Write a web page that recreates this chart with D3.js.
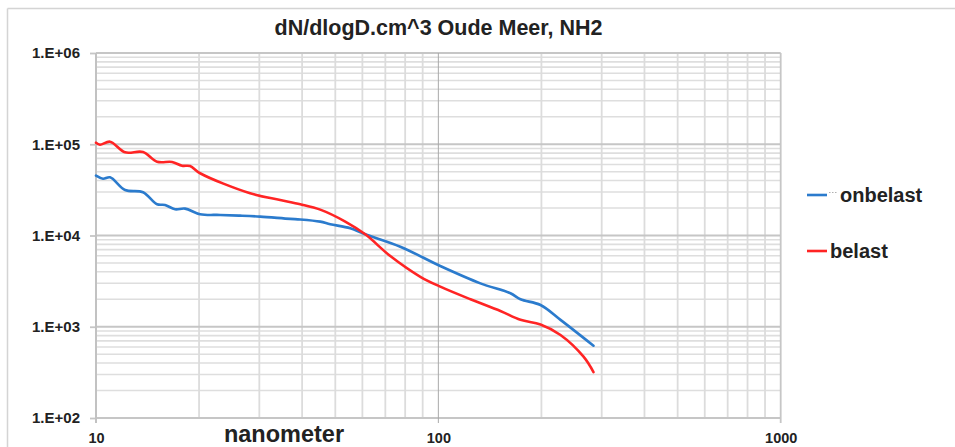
<!DOCTYPE html>
<html>
<head>
<meta charset="utf-8">
<script src="https://cdn.jsdelivr.net/npm/d3@7/dist/d3.min.js"></script>
<style>
  html, body { margin: 0; padding: 0; background: #ffffff; }
  svg { display: block; }
  text { font-family: "Liberation Sans", Arial, sans-serif; font-weight: bold; fill: #222; }
</style>
</head>
<body>
<svg id="chart" width="955" height="447"></svg>
<script>
// Particle size distribution, dN/dlogD per cm^3 against diameter in nm
const diamOnbelast = [10.0, 10.48, 10.99, 12.16, 13.72, 15.08, 15.91, 17.02, 18.2, 20.14, 23.05, 26.37, 30.16, 36.93, 39.5, 45.19, 48.33, 55.3, 61.16, 77.43, 101.3, 132.7, 162.4, 173.7, 198.8, 227.4, 283.9];
const valOnbelast  = [45200, 41900, 43400, 31500, 29800, 22000, 21600, 19400, 19700, 17100, 16800, 16500, 16100, 15200, 15000, 14200, 13300, 12000, 10300, 7540, 4630, 2990, 2330, 2000, 1730, 1190, 620];

const diamBelast = [10.0, 10.27, 10.99, 12.16, 13.72, 15.08, 16.68, 17.84, 18.83, 20.14, 28.2, 34.52, 39.5, 45.19, 53.47, 61.16, 72.38, 88.6, 101.3, 124.1, 151.8, 173.7, 198.8, 227.4, 265.5, 283.9];
const valBelast  = [104000, 98900, 106600, 81600, 82200, 64400, 63900, 58200, 57700, 48100, 29000, 24500, 22000, 19200, 14200, 10300, 5960, 3530, 2750, 2000, 1490, 1190, 1060, 813, 470, 319];

const seriesNames = ["onbelast", "belast"];
const seriesColors = ["#2b7bcd", "#ff2424"];

const xTickValues = [10, 100, 1000];
const xTickLabels = ["10", "100", "1000"];
const yTickValues = [1e2, 1e3, 1e4, 1e5, 1e6];
const yTickLabels = ["1.E+02", "1.E+03", "1.E+04", "1.E+05", "1.E+06"];

const titleText = "dN/dlogD.cm^3 Oude Meer, NH2";
const xTitleText = "nanometer";

const svg = d3.select("#chart");
const plot = { left: 96, right: 780.7, top: 53, bottom: 418 };

const x = d3.scaleLog().domain([10, 1000]).range([plot.left, plot.right]);
const y = d3.scaleLog().domain([1e2, 1e6]).range([plot.bottom, plot.top]);

// chart frame edges
svg.append("line").attr("x1", 7.5).attr("x2", 955).attr("y1", 8.5).attr("y2", 8.5)
  .attr("stroke", "#d4d4d4").attr("stroke-width", 1.5);
svg.append("line").attr("x1", 7.5).attr("x2", 7.5).attr("y1", 8.5).attr("y2", 447)
  .attr("stroke", "#d4d4d4").attr("stroke-width", 1.5);

// minor values per decade
const minorX = [];
for (const d of [10, 100]) for (let k = 2; k <= 9; k++) minorX.push(d * k);
const minorY = [];
for (const d of [1e2, 1e3, 1e4, 1e5]) for (let k = 2; k <= 9; k++) minorY.push(d * k);

const grid = svg.append("g");
grid.selectAll(".hminor").data(minorY).join("line")
  .attr("x1", plot.left).attr("x2", plot.right)
  .attr("y1", d => y(d)).attr("y2", d => y(d))
  .attr("stroke", "#dedede").attr("stroke-width", 1.6);
grid.selectAll(".vminor").data(minorX).join("line")
  .attr("x1", d => x(d)).attr("x2", d => x(d))
  .attr("y1", plot.top).attr("y2", plot.bottom)
  .attr("stroke", "#dcdcdc").attr("stroke-width", 1.8);
grid.selectAll(".hmajor").data(yTickValues).join("line")
  .attr("x1", plot.left).attr("x2", plot.right)
  .attr("y1", d => y(d)).attr("y2", d => y(d))
  .attr("stroke", "#c6c6c6").attr("stroke-width", 1.8);
grid.selectAll(".vmajor").data(xTickValues).join("line")
  .attr("x1", d => x(d)).attr("x2", d => x(d))
  .attr("y1", plot.top).attr("y2", plot.bottom + 5)
  .attr("stroke", d => d === 100 ? "#a9a9a9" : "#c6c6c6")
  .attr("stroke-width", d => d === 100 ? 1 : 1.8);

// y axis
const yAxis = d3.axisLeft(y).tickValues(yTickValues)
  .tickFormat((d, i) => yTickLabels[i]).tickSize(6).tickPadding(10);
const gy = svg.append("g").attr("transform", `translate(${plot.left},0)`).call(yAxis);
gy.select(".domain").remove();
gy.selectAll(".tick line").attr("stroke", "#c6c6c6").attr("stroke-width", 1.8);
gy.selectAll(".tick text").attr("font-size", 15).attr("font-weight", "bold")
  .attr("fill", "#2a2a2a").attr("font-family", "Liberation Sans, Arial, sans-serif");

// x axis labels
const xAxis = d3.axisBottom(x).tickValues(xTickValues)
  .tickFormat((d, i) => xTickLabels[i]).tickSize(0).tickPadding(0);
const gx = svg.append("g").attr("transform", `translate(0,${plot.bottom})`).call(xAxis);
gx.select(".domain").remove();
gx.selectAll(".tick line").remove();
gx.selectAll(".tick text").attr("font-size", 14.5).attr("font-weight", "bold")
  .attr("fill", "#2a2a2a").attr("font-family", "Liberation Sans, Arial, sans-serif")
  .attr("dy", null).attr("y", 25);

// left axis line
svg.append("line").attr("x1", plot.left).attr("x2", plot.left)
  .attr("y1", plot.top).attr("y2", plot.bottom + 5)
  .attr("stroke", "#c2c2c2").attr("stroke-width", 2);

// series
const line = d3.line()
  .x(d => x(d[0])).y(d => y(d[1]))
  .curve(d3.curveCatmullRom.alpha(0.5));

const series = [
  d3.zip(diamOnbelast, valOnbelast),
  d3.zip(diamBelast, valBelast)
];
svg.append("g").selectAll("path").data(series).join("path")
  .attr("d", line)
  .attr("fill", "none")
  .attr("stroke", (d, i) => seriesColors[i])
  .attr("stroke-width", 2.6)
  .attr("stroke-linejoin", "round")
  .attr("stroke-linecap", "round");

// title
svg.append("text").attr("x", 438.5).attr("y", 35).attr("text-anchor", "middle")
  .attr("font-size", 21.5).attr("fill", "#2a2a2a").text(titleText);

// x axis title
svg.append("text").attr("x", 284).attr("y", 442).attr("text-anchor", "middle")
  .attr("font-size", 23.5).attr("fill", "#1e1e1e").text(xTitleText);

// legend
const legendY = [195, 251];
const legendTextX = [840, 830];
const legend = svg.append("g");
seriesNames.forEach((name, i) => {
  legend.append("line").attr("x1", 807).attr("x2", 827)
    .attr("y1", legendY[i]).attr("y2", legendY[i])
    .attr("stroke", seriesColors[i]).attr("stroke-width", 2.6);
  legend.append("text").attr("x", legendTextX[i]).attr("y", legendY[i] + 7)
    .attr("font-size", 20).attr("fill", "#1e1e1e").text(name);
});
legend.append("line").attr("x1", 829).attr("x2", 837)
  .attr("y1", 192.5).attr("y2", 192.5)
  .attr("stroke", "#b0b0b0").attr("stroke-width", 1).attr("stroke-dasharray", "1.5,1.5");
</script>
</body>
</html>
